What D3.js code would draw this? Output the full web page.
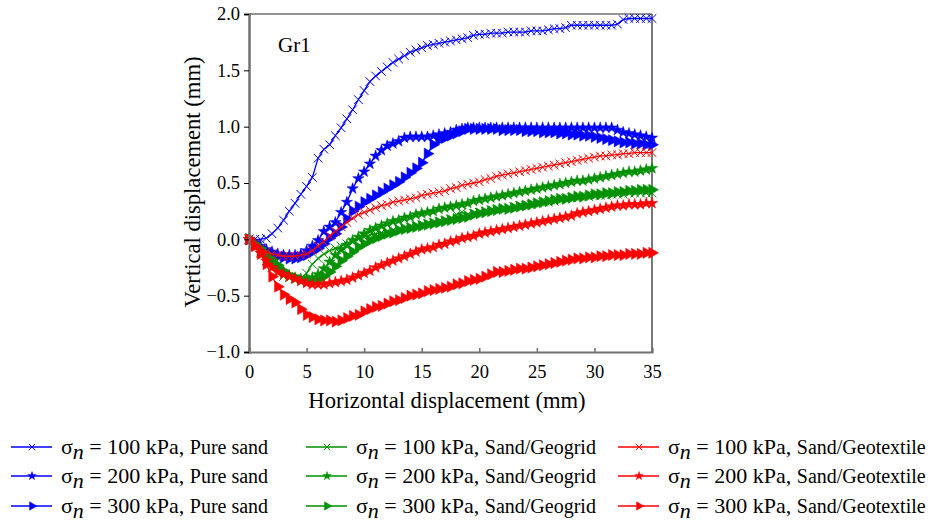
<!DOCTYPE html>
<html>
<head>
<meta charset="utf-8">
<script src="https://cdn.jsdelivr.net/npm/d3@7"></script>
<style>
  body { margin: 0; background: #fff; }
</style>
</head>
<body>
<div id="chart"></div>
<script>
// horizontal displacement (mm), shared by every series
let xs = [0,0.5,1,1.5,2,2.5,3,3.5,4,4.5,5,5.5,6,6.5,7,7.5,8,8.5,9,9.5,
  10,10.5,11,11.5,12,12.5,13,13.5,14,14.5,15,15.5,16,16.5,17,17.5,18,18.5,19,19.5,
  20,20.5,21,21.5,22,22.5,23,23.5,24,24.5,25,25.5,26,26.5,27,27.5,28,28.5,29,29.5,
  30,30.5,31,31.5,32,32.5,33,33.5,34,34.5,35];

// vertical displacement (mm)
let pure100 = [0,0,0,0.01,0.05,0.1,0.17,0.25,0.32,0.4,0.47,0.55,0.72,0.8,0.84,0.92,0.99,1.07,1.15,1.24,
  1.32,1.4,1.45,1.49,1.53,1.57,1.6,1.63,1.66,1.68,1.7,1.72,1.73,1.74,1.75,1.76,1.77,1.78,1.79,1.81,
  1.82,1.82,1.83,1.83,1.83,1.84,1.84,1.84,1.84,1.85,1.85,1.85,1.86,1.87,1.87,1.88,1.9,1.9,1.9,1.9,
  1.9,1.9,1.9,1.9,1.91,1.95,1.96,1.96,1.96,1.96,1.96];
let pure200 = [0,-0.03,-0.06,-0.09,-0.11,-0.13,-0.14,-0.14,-0.14,-0.13,-0.1,-0.06,-0.01,0.07,0.11,0.15,0.24,0.33,0.45,0.54,
  0.6,0.67,0.74,0.79,0.83,0.85,0.87,0.9,0.91,0.91,0.91,0.91,0.92,0.93,0.94,0.95,0.97,0.98,0.99,0.99,
  0.99,0.99,0.99,0.99,0.99,0.99,0.99,0.99,0.99,0.99,0.99,0.99,0.99,0.99,0.99,0.99,0.99,0.99,0.99,0.99,
  0.99,0.99,0.99,0.99,0.97,0.95,0.94,0.93,0.92,0.91,0.9];
let pure300 = [0,-0.03,-0.07,-0.1,-0.13,-0.15,-0.16,-0.17,-0.17,-0.16,-0.14,-0.11,-0.08,-0.04,0.01,0.05,0.11,0.18,0.25,0.29,
  0.33,0.36,0.39,0.42,0.45,0.48,0.51,0.55,0.59,0.63,0.68,0.76,0.84,0.88,0.9,0.92,0.94,0.96,0.98,0.98,
  0.98,0.98,0.98,0.98,0.97,0.97,0.97,0.97,0.96,0.96,0.96,0.95,0.95,0.95,0.94,0.94,0.93,0.93,0.92,0.92,
  0.91,0.9,0.89,0.88,0.87,0.86,0.86,0.85,0.85,0.84,0.84];
let grid100 = [0,-0.06,-0.12,-0.19,-0.25,-0.3,-0.33,-0.34,-0.35,-0.35,-0.3,-0.22,-0.17,-0.13,-0.1,-0.08,-0.06,-0.04,-0.02,0,
  0.02,0.04,0.05,0.06,0.07,0.08,0.09,0.1,0.11,0.12,0.13,0.14,0.15,0.16,0.17,0.18,0.22,0.24,0.22,0.23,
  0.24,0.25,0.26,0.27,0.27,0.28,0.29,0.3,0.3,0.31,0.32,0.33,0.33,0.34,0.35,0.36,0.37,0.37,0.38,0.38,
  0.39,0.39,0.39,0.4,0.4,0.4,0.41,0.41,0.41,0.41,0.41];
let grid200 = [0,-0.05,-0.1,-0.15,-0.2,-0.25,-0.29,-0.32,-0.34,-0.35,-0.35,-0.34,-0.31,-0.26,-0.2,-0.14,-0.09,-0.05,-0.01,0.02,
  0.05,0.08,0.1,0.12,0.14,0.16,0.17,0.19,0.2,0.22,0.23,0.24,0.25,0.27,0.28,0.29,0.3,0.31,0.32,0.34,
  0.35,0.36,0.37,0.38,0.39,0.4,0.41,0.42,0.43,0.44,0.45,0.46,0.47,0.48,0.49,0.5,0.51,0.52,0.52,0.53,
  0.54,0.55,0.56,0.57,0.58,0.59,0.6,0.6,0.61,0.62,0.63];
let grid300 = [0,-0.04,-0.08,-0.13,-0.18,-0.23,-0.28,-0.32,-0.34,-0.36,-0.37,-0.37,-0.36,-0.33,-0.29,-0.24,-0.19,-0.15,-0.11,-0.07,
  -0.04,-0.01,0.01,0.03,0.05,0.06,0.08,0.09,0.1,0.11,0.12,0.13,0.14,0.15,0.16,0.17,0.18,0.19,0.2,0.22,
  0.23,0.24,0.25,0.26,0.27,0.27,0.28,0.29,0.3,0.31,0.32,0.33,0.34,0.35,0.36,0.36,0.37,0.38,0.38,0.39,
  0.4,0.4,0.41,0.41,0.42,0.42,0.43,0.43,0.44,0.44,0.44];
let text100 = [0,-0.04,-0.08,-0.11,-0.13,-0.14,-0.15,-0.15,-0.15,-0.14,-0.13,-0.1,-0.06,-0.02,0.03,0.07,0.11,0.15,0.19,0.22,
  0.24,0.26,0.28,0.3,0.31,0.33,0.34,0.35,0.36,0.37,0.39,0.4,0.41,0.42,0.43,0.45,0.46,0.48,0.49,0.5,
  0.51,0.53,0.54,0.56,0.57,0.58,0.59,0.6,0.61,0.62,0.63,0.64,0.65,0.66,0.67,0.68,0.69,0.7,0.71,0.72,
  0.73,0.74,0.74,0.75,0.75,0.76,0.76,0.77,0.77,0.77,0.77];
let text200 = [0,-0.06,-0.12,-0.19,-0.25,-0.29,-0.31,-0.33,-0.35,-0.37,-0.39,-0.4,-0.4,-0.4,-0.39,-0.38,-0.37,-0.36,-0.34,-0.32,
  -0.3,-0.28,-0.25,-0.23,-0.21,-0.19,-0.17,-0.15,-0.13,-0.11,-0.09,-0.08,-0.07,-0.05,-0.04,-0.02,-0.01,0.01,0.02,0.03,
  0.05,0.06,0.07,0.08,0.09,0.1,0.11,0.12,0.13,0.14,0.15,0.16,0.17,0.18,0.19,0.2,0.21,0.23,0.24,0.25,
  0.26,0.27,0.28,0.29,0.3,0.3,0.31,0.31,0.31,0.32,0.32];
let text300 = [0,-0.06,-0.13,-0.22,-0.33,-0.42,-0.49,-0.53,-0.56,-0.62,-0.67,-0.69,-0.71,-0.72,-0.72,-0.73,-0.72,-0.7,-0.68,-0.67,
  -0.64,-0.62,-0.6,-0.59,-0.57,-0.55,-0.54,-0.52,-0.5,-0.49,-0.48,-0.46,-0.45,-0.44,-0.43,-0.42,-0.4,-0.39,-0.37,-0.36,
  -0.35,-0.33,-0.31,-0.29,-0.29,-0.28,-0.27,-0.26,-0.26,-0.25,-0.24,-0.23,-0.22,-0.21,-0.2,-0.19,-0.18,-0.17,-0.17,-0.16,
  -0.16,-0.15,-0.15,-0.14,-0.14,-0.14,-0.13,-0.13,-0.13,-0.12,-0.12];

let loads = ['100', '200', '300'];
let materials = ['Pure sand', 'Sand/Geogrid', 'Sand/Geotextile'];
let xTicks = [0, 5, 10, 15, 20, 25, 30, 35];
let yTicks = [-1.0, -0.5, 0.0, 0.5, 1.0, 1.5, 2.0];

let series = [
  {mat: 0, load: 0, values: pure100},
  {mat: 0, load: 1, values: pure200},
  {mat: 0, load: 2, values: pure300},
  {mat: 1, load: 0, values: grid100},
  {mat: 1, load: 1, values: grid200},
  {mat: 1, load: 2, values: grid300},
  {mat: 2, load: 0, values: text100},
  {mat: 2, load: 1, values: text200},
  {mat: 2, load: 2, values: text300}
];

let colors = ['#0000ff', '#009000', '#ff0000'];
let serif = 'Liberation Serif';

let config = {
  svg: {width: 936, height: 524},
  plot: {x: 249, y: 14, width: 403, height: 338}
};

let svg = d3.select('#chart').append('svg')
  .attr('width', config.svg.width)
  .attr('height', config.svg.height)
  .attr('font-family', serif);

let plot = svg.append('g')
  .attr('transform', `translate(${config.plot.x},${config.plot.y})`);

let x = d3.scaleLinear().domain([0, 35]).range([0, config.plot.width]);
let y = d3.scaleLinear().domain([-1, 2]).range([config.plot.height, 0]);

// marker shapes: x, star, right-pointing triangle
function marker(load, size) {
  if (load === 0) return d3.symbol(d3.symbolTimes, size)();
  if (load === 1) return d3.symbol(d3.symbolStar, size * 0.8)();
  return d3.symbol(d3.symbolTriangle, size * 1.1)();
}
function markerRot(load) { return load === 2 ? 90 : 0; }

// frame
plot.append('line').attr('x1', 0).attr('x2', config.plot.width).attr('y1', 0).attr('y2', 0)
  .attr('stroke', '#707070').attr('stroke-width', 1.5);
plot.append('line').attr('x1', config.plot.width).attr('x2', config.plot.width).attr('y1', 0).attr('y2', config.plot.height)
  .attr('stroke', '#303030').attr('stroke-width', 1.3);

let line = d3.line().x((d, i) => x(xs[i])).y(d => y(d));

let gSeries = plot.append('g');
series.forEach(s => {
  let c = colors[s.mat];
  let g = gSeries.append('g');
  g.append('path')
    .attr('d', line(s.values))
    .attr('fill', 'none')
    .attr('stroke', c)
    .attr('stroke-width', 1.3);
  g.selectAll('path.m')
    .data(s.values)
    .join('path')
      .attr('class', 'm')
      .attr('d', marker(s.load, 50))
      .attr('transform', (d, i) => `translate(${x(xs[i])},${y(d)}) rotate(${markerRot(s.load)})`)
      .attr('fill', s.load === 0 ? 'none' : c)
      .attr('stroke', c)
      .attr('stroke-width', s.load === 0 ? 1 : 0.5);
});

// axes
let xAxis = plot.append('g')
  .attr('transform', `translate(0,${config.plot.height})`)
  .call(d3.axisBottom(x).tickValues(xTicks).tickSize(-4).tickPadding(13).tickFormat(d3.format('d')));
xAxis.attr('font-family', serif);
xAxis.select('.domain').attr('stroke', '#707070').attr('stroke-width', 2);
xAxis.selectAll('.tick line').attr('stroke', '#707070').attr('stroke-width', 1.5);
xAxis.selectAll('.tick text').attr('font-size', 18.5).attr('fill', '#000');

let yAxis = plot.append('g')
  .call(d3.axisLeft(y).tickValues(yTicks).tickSize(5).tickPadding(4)
    .tickFormat(d => d < 0 ? '\u2212' + d3.format('.1f')(-d) : d3.format('.1f')(d)));
yAxis.attr('font-family', serif);
yAxis.select('.domain').attr('stroke', '#707070').attr('stroke-width', 2.5);
yAxis.selectAll('.tick line').attr('stroke', '#000').attr('stroke-width', 1);
yAxis.selectAll('.tick text').attr('font-size', 18.5).attr('fill', '#000');

// titles
svg.append('text')
  .attr('x', 447).attr('y', 408)
  .attr('text-anchor', 'middle')
  .attr('font-size', 22.6)
  .text('Horizontal displacement (mm)');

svg.append('text')
  .attr('transform', 'translate(200,182) rotate(-90)')
  .attr('text-anchor', 'middle')
  .attr('font-size', 22.6)
  .text('Vertical displacement (mm)');

svg.append('text')
  .attr('x', 278).attr('y', 52)
  .attr('font-size', 21)
  .text('Gr1');

// legend
let legX = [11, 306, 618];
let legY = [447, 476, 506];
let legend = svg.append('g');
series.forEach(s => {
  let c = colors[s.mat];
  let lx = legX[s.mat], ly = legY[s.load];
  let g = legend.append('g');
  g.append('line')
    .attr('x1', lx).attr('x2', lx + 41).attr('y1', ly).attr('y2', ly)
    .attr('stroke', c).attr('stroke-width', 1.5);
  g.append('path')
    .attr('d', marker(s.load, 28))
    .attr('transform', `translate(${lx + 21},${ly}) rotate(${markerRot(s.load)})`)
    .attr('fill', s.load === 0 ? 'none' : c)
    .attr('stroke', c)
    .attr('stroke-width', s.load === 0 ? 1 : 0.5);
  let t = g.append('text')
    .attr('x', lx + 50).attr('y', ly + 7)
    .attr('font-size', 22);
  t.append('tspan').text('\u03c3');
  t.append('tspan').attr('font-style', 'italic').attr('dy', 5).text('n');
  t.append('tspan').attr('dy', -5).text(' = ' + loads[s.load] + ' kPa, ');
  t.append('tspan').attr('font-size', 20).text(materials[s.mat]);
});
</script>
</body>
</html>
